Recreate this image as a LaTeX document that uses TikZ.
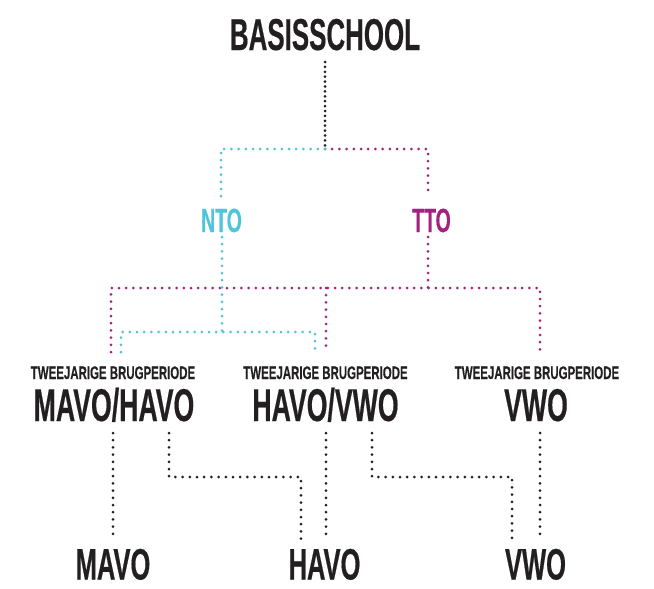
\documentclass[tikz,border=0pt]{standalone}
\usepackage{fontspec}
\newfontfamily\bbfont[FakeStretch=0.58,FakeBold=0.4]{Liberation Sans}
\newfontfamily\bbsfont[FakeStretch=0.63,FakeBold=0.3]{Liberation Sans}
\definecolor{txt}{HTML}{231F20}
\definecolor{cyanc}{HTML}{4EC6D8}
\definecolor{magc}{HTML}{A2227F}
\begin{document}
\begin{tikzpicture}[x=1pt,y=-1pt,
  lbl/.style={anchor=base,inner sep=0pt,text=txt,font=\bbfont\bfseries},
  dots/.style={line width=3pt,line cap=round,dash pattern=on 0pt off 7.2pt},
  densedots/.style={line width=3pt,line cap=round,dash pattern=on 0pt off 4.9pt},
  cyanline/.style={dots,draw=cyanc},
  magline/.style={dots,draw=magc},
  blackline/.style={dots,draw=txt}]
\useasboundingbox (0,0) rectangle (654,589);
% text nodes
\node[lbl,font=\bbfont\bfseries\fontsize{44.7}{44.7}\selectfont] (basis) at (325,50) {BASISSCHOOL};
\node[lbl,text=cyanc,font=\bbfont\bfseries\fontsize{33.5}{33.5}\selectfont] (nto) at (221.5,232) {NTO};
\node[lbl,text=magc,font=\bbfont\bfseries\fontsize{33.5}{33.5}\selectfont] (tto) at (431.5,232) {TTO};
\node[lbl,font=\bbsfont\bfseries\fontsize{18.2}{18.2}\selectfont] (t1) at (113,379) {TWEEJARIGE BRUGPERIODE};
\node[lbl,font=\bbsfont\bfseries\fontsize{18.2}{18.2}\selectfont] (t2) at (325.5,379) {TWEEJARIGE BRUGPERIODE};
\node[lbl,font=\bbsfont\bfseries\fontsize{18.2}{18.2}\selectfont] (t3) at (537,379) {TWEEJARIGE BRUGPERIODE};
\node[lbl,font=\bbfont\bfseries\fontsize{46}{46}\selectfont] (mh) at (114,421) {MAVO/HAVO};
\node[lbl,font=\bbfont\bfseries\fontsize{46}{46}\selectfont] (hv) at (325.5,421) {HAVO/VWO};
\node[lbl,font=\bbfont\bfseries\fontsize{46}{46}\selectfont] (vw) at (536,421) {VWO};
\node[lbl,font=\bbfont\bfseries\fontsize{44}{44}\selectfont] (mavo) at (113,579.5) {MAVO};
\node[lbl,font=\bbfont\bfseries\fontsize{44}{44}\selectfont] (havo) at (324.5,579.5) {HAVO};
\node[lbl,font=\bbfont\bfseries\fontsize{44}{44}\selectfont] (vwo) at (535.5,579.5) {VWO};
% junction coordinates
\coordinate (b0) at (325,62);
\coordinate (j0) at (325,149);
\coordinate (c1) at (221,149);
\coordinate (c2) at (221,197);
\coordinate (m1) at (428,149);
\coordinate (m2) at (428,197);
\coordinate (c3) at (222,237);
\coordinate (c4) at (222,332);
\coordinate (c5) at (121,332);
\coordinate (c6) at (121,352);
\coordinate (c7) at (315,332);
\coordinate (c8) at (315,352);
\coordinate (m3) at (428,237);
\coordinate (m4) at (428,288);
\coordinate (m5) at (111,288);
\coordinate (m6) at (111,352);
\coordinate (m7) at (540,288);
\coordinate (m8) at (540,352);
\coordinate (m9) at (326,288);
\coordinate (m10) at (326,352);
\coordinate (k1) at (113,433);
\coordinate (k2) at (113,537);
\coordinate (k3) at (169,433);
\coordinate (k4) at (169,477);
\coordinate (k5) at (301,477);
\coordinate (k6) at (301,539);
\coordinate (k7) at (326,433);
\coordinate (k8) at (326,537);
\coordinate (k9) at (372,433);
\coordinate (k10) at (372,477);
\coordinate (k11) at (512,477);
\coordinate (k12) at (512,539);
\coordinate (k13) at (540,433);
\coordinate (k14) at (540,537);
% connectors
\draw[densedots,draw=txt] (b0) -- (j0);
\draw[magline] (j0) -- (m1) -- (m2);
\draw[cyanline] (j0) -- (c1) -- (c2);
\draw[magline] (m3) -- (m4);
\draw[magline] (m6) -- (m5) -- (m7) -- (m8);
\draw[magline] (m9) -- (m10);
\draw[cyanline] (c3) -- (c4);
\draw[cyanline] (c6) -- (c5) -- (c7) -- (c8);
\draw[blackline] (k1) -- (k2);
\draw[blackline] (k3) -- (k4) -- (k5) -- (k6);
\draw[blackline] (k7) -- (k8);
\draw[blackline] (k9) -- (k10) -- (k11) -- (k12);
\draw[blackline] (k13) -- (k14);
\end{tikzpicture}
\end{document}
